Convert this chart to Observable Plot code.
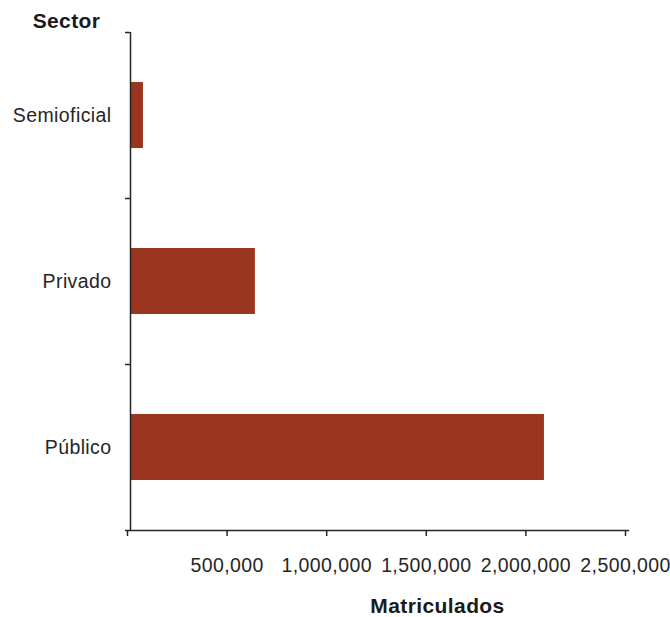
<!DOCTYPE html>
<html><head><meta charset="utf-8">
<script src="https://cdn.jsdelivr.net/npm/d3@7"></script>
<script src="https://cdn.jsdelivr.net/npm/@observablehq/plot@0.6"></script>
<style>body{margin:0;background:#fff}</style>
</head><body><div id="chart"></div>
<script>
const sectors = ["Semioficial", "Privado", "Público"];
const matriculados = [65000, 627000, 2078000];
const xTicks = [0, 500000, 1000000, 1500000, 2000000, 2500000];
const yTitle = "Sector";
const xTitle = "Matriculados";

const data = sectors.map((s, i) => ({sector: s, value: matriculados[i]}));
const W = 670, H = 617, mT = 32, mB = 87, mL = 130, mR = 42;
const step = (H - mT - mB) / sectors.length;
const font = "'Liberation Sans', Arial, sans-serif";
const ink = "#262626";

const chart = Plot.plot({
  width: W, height: H,
  marginTop: mT, marginBottom: mB, marginLeft: mL, marginRight: mR,
  style: {fontFamily: font, fontSize: "19.5px", color: ink, background: "#fff", overflow: "visible", letterSpacing: "0.4px"},
  x: {domain: [0, 2500000]},
  y: {domain: sectors, paddingInner: 0.6, paddingOuter: 0.3},
  marks: [
    Plot.barX(data, {x: "value", y: "sector", fill: "#9a3620"}),
    Plot.axisX(xTicks, {tickSize: 6, tickPadding: 22, tickFormat: d => d === 0 ? "" : d3.format(",")(d), label: null, stroke: ink, strokeWidth: 1.5, dx: -3}),
    Plot.axisY({tickSize: 0, tickPadding: 19, label: null}),
    Plot.axisY({tickSize: 5, text: null, dy: -step / 2, label: null, stroke: ink, strokeWidth: 1.5}),
    Plot.axisY([sectors[sectors.length - 1]], {tickSize: 5, text: null, dy: step / 2, label: null, stroke: ink, strokeWidth: 1.5}),
    Plot.ruleX([0], {stroke: ink, strokeWidth: 1.5}),
    Plot.frame({anchor: "bottom", stroke: ink, strokeWidth: 1.5}),
    Plot.text([yTitle], {frameAnchor: "top-left", textAnchor: "middle", lineAnchor: "bottom", dx: -64, dy: -5, fontWeight: "bold", fontSize: 21, fill: "#1a1a1a"}),
    Plot.text([xTitle], {frameAnchor: "bottom", textAnchor: "middle", lineAnchor: "top", dx: 58, dy: 68, fontWeight: "bold", fontSize: 21, fill: "#1a1a1a"})
  ]
});
document.getElementById("chart").appendChild(chart);
</script>
</body></html>
